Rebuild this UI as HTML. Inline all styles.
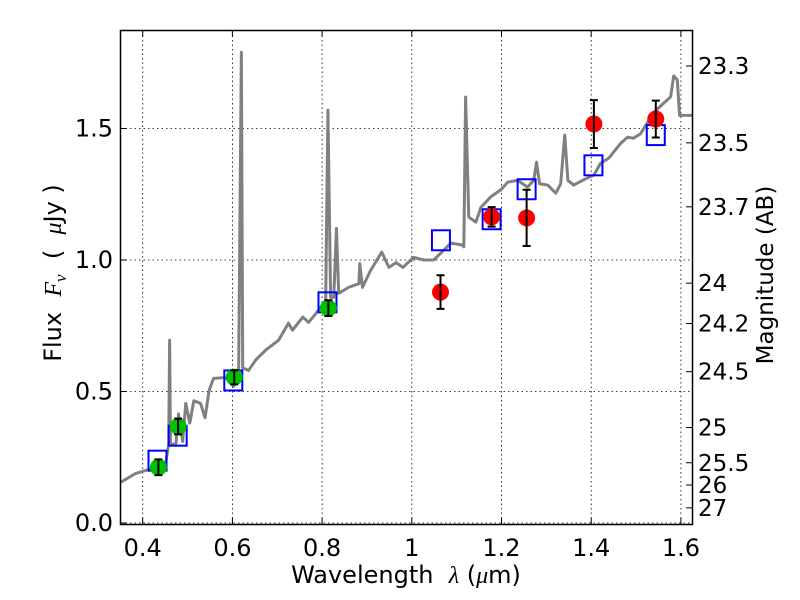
<!DOCTYPE html>
<html><head><meta charset="utf-8"><style>
html,body{margin:0;padding:0;background:#fff;}
svg{display:block;font-family:"DejaVu Sans","Liberation Sans",sans-serif;}
</style></head><body>
<svg id="chart" width="800" height="600" viewBox="0 0 800 600">
<rect x="0" y="0" width="800" height="600" fill="#fff"/>
<g id="grid"></g>
<g id="spec"></g>
<g id="marks"></g>
<rect x="120.5" y="30.5" width="572" height="494" fill="none" stroke="#000" stroke-width="1.5"/>
<g id="axes"></g>
<text x="406" y="583" font-size="24" text-anchor="middle">Wavelength&#160;&#160;<tspan font-family="Liberation Serif, serif" font-style="italic">λ</tspan>&#160;(<tspan font-family="Liberation Serif, serif" font-style="italic">μ</tspan>m)</text>
<text transform="translate(61,273) rotate(-90)" font-size="24" text-anchor="middle">Flux&#160;&#160;<tspan font-family="Liberation Serif, serif" font-style="italic">F</tspan><tspan font-family="Liberation Serif, serif" font-style="italic" font-size="17" dy="5">ν</tspan><tspan dy="-5">&#160;&#160;(&#160;&#160;</tspan><tspan font-family="Liberation Serif, serif" font-style="italic">μ</tspan>Jy&#160;)</text>
<text transform="translate(773,275) rotate(-90)" font-size="23" text-anchor="middle">Magnitude (AB)</text>
</svg>
<script>
const xTicks = [0.4, 0.6, 0.8, 1.0, 1.2, 1.4, 1.6];
const xTickLabels = ["0.4", "0.6", "0.8", "1", "1.2", "1.4", "1.6"];
const yTicks = [0.0, 0.5, 1.0, 1.5];
const yTickLabels = ["0.0", "0.5", "1.0", "1.5"];
const magTicks = [23.3, 23.5, 23.7, 24, 24.2, 24.5, 25, 25.5, 26, 27];
const magTickLabels = ["23.3", "23.5", "23.7", "24", "24.2", "24.5", "25", "25.5", "26", "27"];
const specWave = [0.351,0.384,0.413,0.451,0.458,0.460,0.462,0.474,0.480,0.489,0.496,0.505,0.514,0.529,0.539,0.548,0.558,0.585,0.603,0.614,0.620,0.623,0.636,0.652,0.674,0.703,0.725,0.734,0.757,0.770,0.786,0.808,0.813,0.819,0.826,0.832,0.837,0.859,0.882,0.884,0.890,0.908,0.933,0.949,0.965,0.980,1.004,1.027,1.049,1.087,1.113,1.116,1.120,1.127,1.143,1.154,1.176,1.198,1.214,1.236,1.258,1.272,1.278,1.285,1.303,1.321,1.332,1.341,1.348,1.361,1.381,1.406,1.421,1.439,1.466,1.481,1.494,1.510,1.539,1.562,1.577,1.584,1.592,1.597,1.626];
const specFlux = [0.155,0.188,0.203,0.226,0.30,0.695,0.30,0.30,0.415,0.31,0.455,0.38,0.465,0.455,0.40,0.504,0.55,0.553,0.52,0.59,1.79,0.59,0.58,0.62,0.657,0.695,0.76,0.733,0.783,0.763,0.796,0.846,1.57,0.858,0.858,1.12,0.873,0.896,0.91,0.986,0.896,0.96,1.03,0.972,0.99,0.972,1.01,1.0,1.0,1.064,1.057,1.05,1.62,1.163,1.144,1.2,1.24,1.266,1.296,1.303,1.277,1.303,1.372,1.29,1.285,1.254,1.29,1.475,1.303,1.285,1.303,1.323,1.368,1.387,1.444,1.467,1.463,1.48,1.56,1.597,1.62,1.70,1.685,1.55,1.55];
const modelWave = [0.433,0.478,0.602,0.812,1.065,1.178,1.256,1.405,1.544];
const modelFlux = [0.237,0.332,0.542,0.839,1.075,1.155,1.269,1.36,1.475];
const optWave = [0.435,0.479,0.604,0.814];
const optFlux = [0.212,0.367,0.554,0.817];
const optErr = [0.03,0.03,0.027,0.03];
const nirWave = [1.064,1.178,1.256,1.406,1.544];
const nirFlux = [0.878,1.164,1.16,1.517,1.536];
const nirErr = [0.064,0.037,0.107,0.091,0.07];

const NS = "http://www.w3.org/2000/svg";
const X = w => 142.7 + (w - 0.4) * 448.5;
const Y = f => 523 - f * 263;
const YR = m => Y(Math.pow(10, (23.9 - m) / 2.5));
function mk(parent, tag, attrs) {
  const e = document.createElementNS(NS, tag);
  for (const k in attrs) e.setAttribute(k, attrs[k]);
  document.getElementById(parent).appendChild(e);
  return e;
}
xTicks.forEach((t, i) => {
  const g = mk("grid", "line", {x1: X(t), x2: X(t), y1: 31, y2: 524, stroke: "#000", "stroke-width": 0.8, "stroke-dasharray": "1.5,3"});
  
  
  mk("axes", "line", {x1: X(t), x2: X(t), y1: 524.5, y2: 518, stroke: "#000", "stroke-width": 1});
  mk("axes", "line", {x1: X(t), x2: X(t), y1: 30.5, y2: 37, stroke: "#000", "stroke-width": 1});
  const l = mk("axes", "text", {x: X(t), y: 556, "font-size": 24, "text-anchor": "middle"});
  l.textContent = xTickLabels[i];
  
  
});
yTicks.forEach((t, i) => {
  const g = mk("grid", "line", {x1: 121, x2: 692, y1: Y(t), y2: Y(t), stroke: "#000", "stroke-width": 0.8, "stroke-dasharray": "1.5,3"});
  
  
  mk("axes", "line", {x1: 120.5, x2: 127, y1: Y(t), y2: Y(t), stroke: "#000", "stroke-width": 1});
  const l = mk("axes", "text", {x: 113, y: Y(t) + 8, "font-size": 24, "text-anchor": "end"});
  l.textContent = yTickLabels[i];
  
  
});
magTicks.forEach((m, i) => {
  mk("axes", "line", {x1: 692.5, x2: 686, y1: YR(m), y2: YR(m), stroke: "#000", "stroke-width": 1});
  const l = mk("axes", "text", {x: 698, y: YR(m) + 8, "font-size": 23});
  l.textContent = magTickLabels[i];
  
  
});
const sp = mk("spec", "polyline", {points: specWave.map((w, i) => X(w) + "," + Y(specFlux[i])).join(" "), fill: "none", stroke: "#808080", "stroke-width": 3, "stroke-linejoin": "round"});


modelWave.forEach((w, i) => {
  const r = mk("marks", "rect", {x: X(w) - 9, y: Y(modelFlux[i]) - 10, width: 18, height: 20, fill: "none", stroke: "#0000ff", "stroke-width": 2});
  
  
});
function pts(ws, fs, es, col, name) {
  ws.forEach((w, i) => {
    const c = mk("marks", "circle", {cx: X(w), cy: Y(fs[i]), r: 8.5, fill: col});
    
    
    const x = X(w), y1 = Y(fs[i] - es[i]), y2 = Y(fs[i] + es[i]);
    const e = mk("marks", "path", {d: `M${x},${y1}V${y2}M${x-4},${y1}H${x+4}M${x-4},${y2}H${x+4}`, stroke: "#000", "stroke-width": 2, fill: "none"});
    
    
  });
}
pts(optWave, optFlux, optErr, "#00c000", "optical-flux-point");
pts(nirWave, nirFlux, nirErr, "#ff0000", "nir-flux-point");
</script>
</body></html>
